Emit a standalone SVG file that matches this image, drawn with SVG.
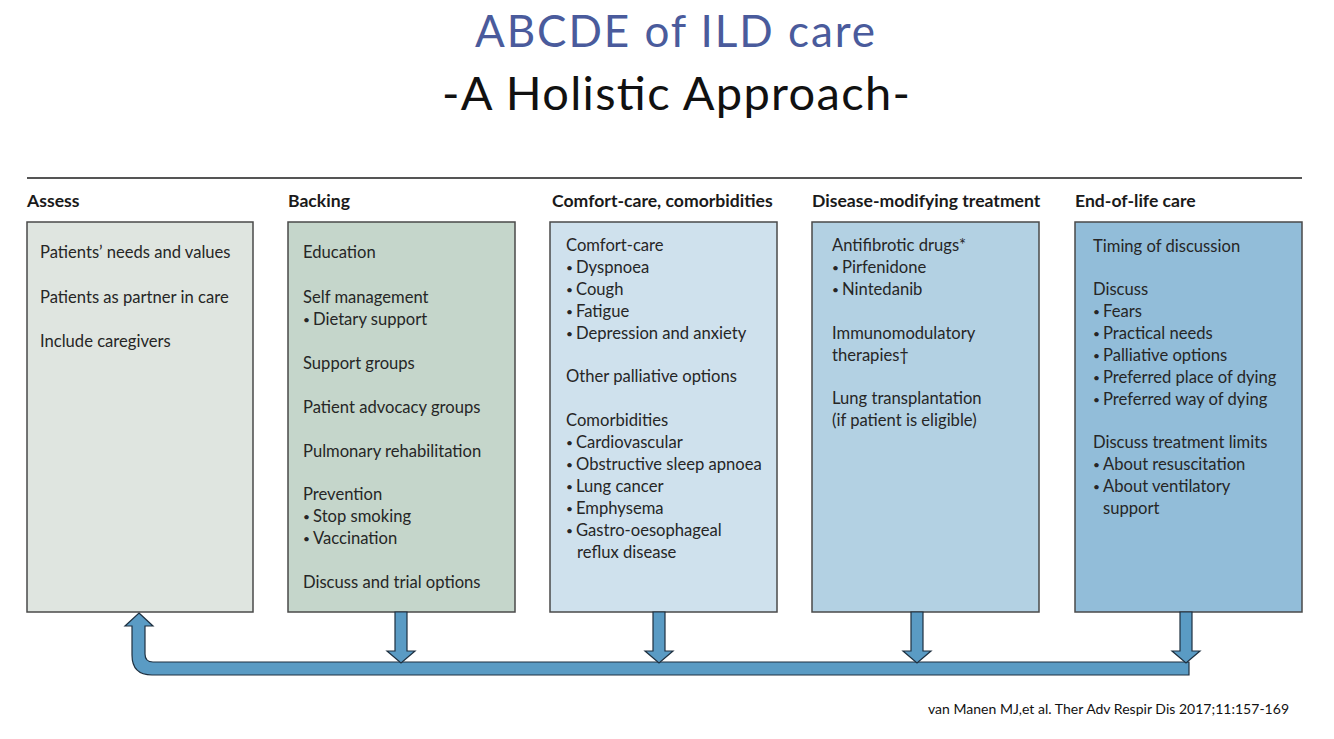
<svg xmlns="http://www.w3.org/2000/svg" width="1334" height="739" viewBox="0 0 1334 739">
<style>
.t1{font-family:Lato,"Open Sans","Liberation Sans",sans-serif;font-size:44px;fill:#4a5b9c}
.t2{font-family:Lato,"Open Sans","Liberation Sans",sans-serif;font-size:47px;fill:#111}
.h{font-family:Lato,"Open Sans","Liberation Sans",sans-serif;font-size:17.6px;font-weight:bold;fill:#1a1a1a}
.b{font-family:Lato,"Open Sans","Liberation Sans",sans-serif;font-size:16.6px;fill:#262626}
.d{font-family:Lato,"Open Sans","Liberation Sans",sans-serif;font-size:12px;fill:#262626}
.box{stroke:#4a4a4a;stroke-width:1.5}
.arr{fill:#5a9bc4;stroke:#1e3040;stroke-width:1.2;stroke-linejoin:miter}
.cite{font-family:Lato,"Open Sans","Liberation Sans",sans-serif;font-size:14px;fill:#111}
</style>
<rect width="1334" height="739" fill="#ffffff"/>
<text class="t1" x="675" y="47" text-anchor="middle" textLength="400">ABCDE of ILD care</text>
<text class="t2" x="676" y="110" text-anchor="middle" textLength="468">-A Holistic Approach-</text>
<line x1="27" y1="178" x2="1302" y2="178" stroke="#555" stroke-width="2"/>

<g id="assess">
<text class="h" x="27" y="207">Assess</text>
<rect class="box" x="27" y="222" width="226" height="390" fill="#dfe5e0"/>
<text class="b" x="40" y="258">Patients’ needs and values</text>
<text class="b" x="40" y="303">Patients as partner in care</text>
<text class="b" x="40" y="347">Include caregivers</text>
</g>

<g id="backing">
<text class="h" x="288" y="207">Backing</text>
<rect class="box" x="288" y="222" width="227" height="390" fill="#c5d6cb"/>
<text class="b" x="303" y="258">Education</text>
<text class="b" x="303" y="303">Self management</text>
<text class="d" x="303" y="324">•</text><text class="b" x="313" y="325">Dietary support</text>
<text class="b" x="303" y="369">Support groups</text>
<text class="b" x="303" y="413">Patient advocacy groups</text>
<text class="b" x="303" y="457">Pulmonary rehabilitation</text>
<text class="b" x="303" y="500">Prevention</text>
<text class="d" x="303" y="521">•</text><text class="b" x="313" y="522">Stop smoking</text>
<text class="d" x="303" y="543">•</text><text class="b" x="313" y="544">Vaccination</text>
<text class="b" x="303" y="588">Discuss and trial options</text>
</g>

<g id="comfort">
<text class="h" x="552" y="207">Comfort-care, comorbidities</text>
<rect class="box" x="550" y="222" width="227" height="390" fill="#cfe1ed"/>
<text class="b" x="566" y="251">Comfort-care</text>
<text class="d" x="566" y="272">•</text><text class="b" x="576" y="273">Dyspnoea</text>
<text class="d" x="566" y="294">•</text><text class="b" x="576" y="295">Cough</text>
<text class="d" x="566" y="316">•</text><text class="b" x="576" y="317">Fatigue</text>
<text class="d" x="566" y="338">•</text><text class="b" x="576" y="339">Depression and anxiety</text>
<text class="b" x="566" y="382">Other palliative options</text>
<text class="b" x="566" y="426">Comorbidities</text>
<text class="d" x="566" y="447">•</text><text class="b" x="576" y="448">Cardiovascular</text>
<text class="d" x="566" y="469">•</text><text class="b" x="576" y="470">Obstructive sleep apnoea</text>
<text class="d" x="566" y="491">•</text><text class="b" x="576" y="492">Lung cancer</text>
<text class="d" x="566" y="513">•</text><text class="b" x="576" y="514">Emphysema</text>
<text class="d" x="566" y="535">•</text><text class="b" x="576" y="536">Gastro-oesophageal</text>
<text class="b" x="577" y="558">reflux disease</text>
</g>

<g id="disease">
<text class="h" x="812" y="207">Disease-modifying treatment</text>
<rect class="box" x="812" y="222" width="227" height="390" fill="#b3d1e3"/>
<text class="b" x="832" y="251">Antifibrotic drugs*</text>
<text class="d" x="832" y="272">•</text><text class="b" x="842" y="273">Pirfenidone</text>
<text class="d" x="832" y="294">•</text><text class="b" x="842" y="295">Nintedanib</text>
<text class="b" x="832" y="339">Immunomodulatory</text>
<text class="b" x="832" y="361">therapies†</text>
<text class="b" x="832" y="404">Lung transplantation</text>
<text class="b" x="832" y="426">(if patient is eligible)</text>
</g>

<g id="endoflife">
<text class="h" x="1075" y="207">End-of-life care</text>
<rect class="box" x="1075" y="222" width="227" height="390" fill="#92bdd9"/>
<text class="b" x="1093" y="252">Timing of discussion</text>
<text class="b" x="1093" y="295">Discuss</text>
<text class="d" x="1093" y="316">•</text><text class="b" x="1103" y="317">Fears</text>
<text class="d" x="1093" y="338">•</text><text class="b" x="1103" y="339">Practical needs</text>
<text class="d" x="1093" y="360">•</text><text class="b" x="1103" y="361">Palliative options</text>
<text class="d" x="1093" y="382">•</text><text class="b" x="1103" y="383">Preferred place of dying</text>
<text class="d" x="1093" y="404">•</text><text class="b" x="1103" y="405">Preferred way of dying</text>
<text class="b" x="1093" y="448">Discuss treatment limits</text>
<text class="d" x="1093" y="469">•</text><text class="b" x="1103" y="470">About resuscitation</text>
<text class="d" x="1093" y="491">•</text><text class="b" x="1103" y="492">About ventilatory</text>
<text class="b" x="1103" y="514">support</text>
</g>

<g id="connectors">
<path class="arr" d="M139,613 L153,626 L145,626 L145,654 Q145,662 153,662 L1189,662 L1189,675 L152,675 Q132,675 132,655 L132,626 L125,626 Z"/>
<path class="arr" d="M395,612 L407,612 L407,651 L415,651 L401,663 L387,651 L395,651 Z"/>
<path class="arr" d="M653,612 L665,612 L665,651 L673,651 L659,663 L645,651 L653,651 Z"/>
<path class="arr" d="M911,612 L923,612 L923,651 L931,651 L917,663 L903,651 L911,651 Z"/>
<path class="arr" d="M1180,612 L1192,612 L1192,651 L1200,651 L1186,663 L1172,651 L1180,651 Z"/>
</g>

<text class="cite" x="928" y="714" textLength="361">van Manen MJ,et al. Ther Adv Respir Dis 2017;11:157-169</text>
</svg>
